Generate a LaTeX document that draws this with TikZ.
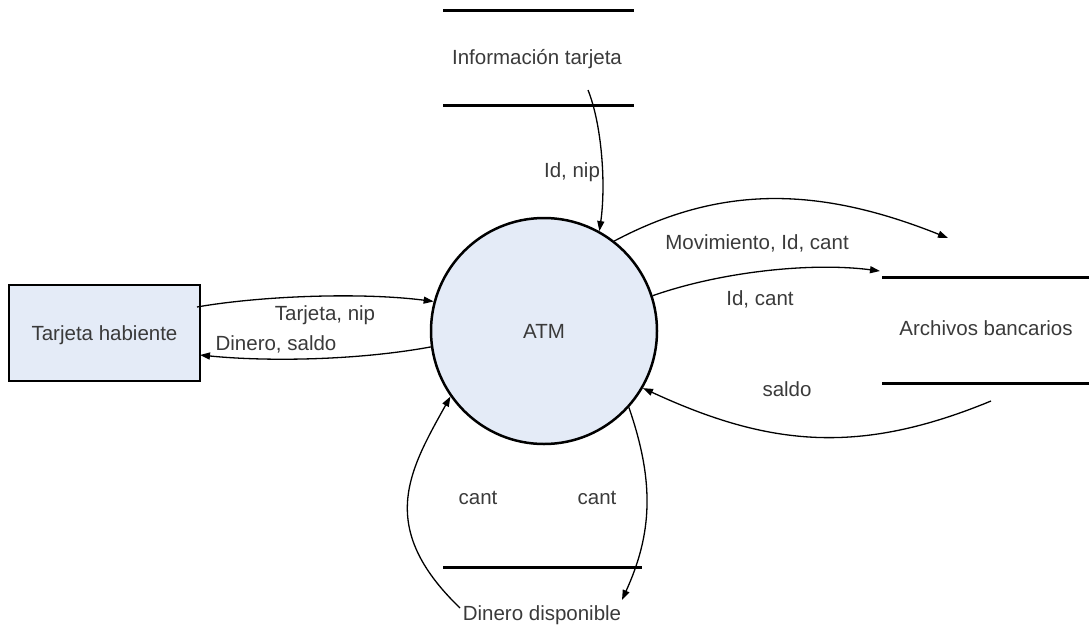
\documentclass[tikz,border=0pt]{standalone}
\usepackage{fontspec}
\setmainfont{Liberation Sans}
\usetikzlibrary{arrows.meta}
\definecolor{procfill}{RGB}{228,235,247}
\definecolor{txtgray}{RGB}{58,58,58}
\tikzset{
  lbl/.style={font=\fontsize{20.5}{24}\selectfont, text=txtgray, inner sep=0pt,
              text height=14.7pt, text depth=0pt},
  flow/.style={line width=1.3pt, -{Triangle[length=10pt,width=7pt]}},
  storeline/.style={line width=3pt},
  process/.style={circle, draw, line width=2.5pt, fill=procfill, minimum size=226pt, inner sep=0pt},
  entity/.style={rectangle, draw, line width=2.5pt, fill=procfill, minimum width=191pt, minimum height=96pt, inner sep=0pt}
}
\begin{document}
\begin{tikzpicture}[x=1pt,y=-1pt]
\useasboundingbox (0,0) rectangle (1089,627);

% process and external entity
\node[process] (atm) at (544,331) {};
\node[lbl] (atmtxt) at (544,331) {ATM};
\node[entity] (th) at (104.5,333) {};
\node[lbl] (thtxt) at (104.5,333) {Tarjeta habiente};

% data stores
\draw[storeline] (443,10) -- (634,10);
\draw[storeline] (443,105) -- (634,105);
\node[lbl] (info) at (537,57) {Información tarjeta};
\draw[storeline] (882,277) -- (1089,277);
\draw[storeline] (882,383) -- (1089,383);
\node[lbl] (arch) at (986,328) {Archivos bancarios};
\draw[storeline] (443,567) -- (642,567);
\node[lbl] (dd) at (542,613) {Dinero disponible};

% free ends of the flows
\coordinate (infoout) at (588,90);
\coordinate (thin) at (197,307);
\coordinate (thout) at (200,355);
\coordinate (movend) at (948,238);
\coordinate (archin) at (880,271);
\coordinate (archout) at (991,401);
\coordinate (ddout) at (460,608);
\coordinate (ddin) at (622,600);

% flows
\draw[flow] (infoout) .. controls (602,125) and (606,185) .. (atm.61.4);
\node[lbl] (l1) at (572,170) {Id, nip};

\draw[flow] (thin) .. controls (260,296) and (360,292) .. (atm.165);
\node[lbl] (l2) at (325,313) {Tarjeta, nip};

\draw[flow] (atm.188.5) .. controls (360,360) and (270,362) .. (thout);
\node[lbl] (l3) at (276,343) {Dinero, saldo};

\draw[flow] (atm.52.8) .. controls (720,185) and (818,186) .. (movend);
\node[lbl] (l4) at (757,242) {Movimiento, Id, cant};

\draw[flow] (atm.18) .. controls (720,272) and (810,262) .. (archin);
\node[lbl] (l5) at (760,298) {Id, cant};

\draw[flow] (archout) .. controls (860,455) and (770,447) .. (atm.-30);
\node[lbl] (l6) at (787,389) {saldo};

\draw[flow] (ddout) .. controls (376,527) and (409,471) .. (atm.215);
\node[lbl] (l7) at (478,497) {cant};

\draw[flow] (atm.-42) .. controls (655,483) and (652,534) .. (ddin);
\node[lbl] (l8) at (597,497) {cant};
\end{tikzpicture}
\end{document}
